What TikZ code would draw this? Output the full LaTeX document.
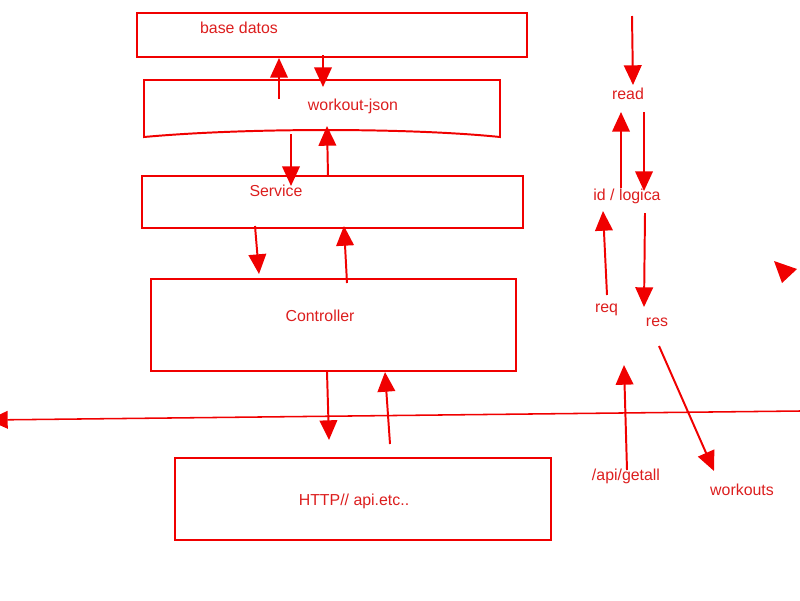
\documentclass[tikz,border=0pt]{standalone}
\usepackage{fontspec}
\setmainfont{Liberation Sans}
\usetikzlibrary{arrows.meta}
\definecolor{linered}{RGB}{240,0,0}
\definecolor{textred}{RGB}{220,30,30}

\begin{document}
\begin{tikzpicture}[x=0.025cm,y=-0.025cm,
    box/.style={draw=linered, line width=1.4pt},
    lbl/.style={text=textred, font=\fontsize{11.3}{13}\selectfont, inner sep=0pt, text height=8pt, text depth=0pt},
    flow/.style={draw=linered, line width=1.4pt, -{Triangle[length=14pt,width=12.5pt]}}]
    \useasboundingbox (0,0) rectangle (800,600);

    % Layers
    \draw[box] (137,13) rectangle (527,57);
    \node[lbl] (bd) at (239,28) {base datos};

    \draw[box] (144,80) -- (500,80) -- (500,137)
        .. controls (410,127.7) and (245,127.7) .. (144,137) -- cycle;
    \node[lbl] (wjson) at (353,105) {workout-json};

    \draw[box] (142,176) rectangle (523,228);
    \node[lbl] (serv) at (276,191) {Service};

    \draw[box] (151,279) rectangle (516,371);
    \node[lbl] (ctrl) at (320,316) {Controller};

    \draw[box] (175,458) rectangle (551,540);
    \node[lbl] (http) at (354,500) {HTTP// api.etc..};

    % Flow between layers
    \coordinate (wjUp0) at (279,99);   \coordinate (wjUp1) at (279,58);
    \coordinate (bdDn0) at (323,55);   \coordinate (bdDn1) at (323,87);
    \coordinate (wjDn0) at (291,134);  \coordinate (wjDn1) at (291,186);
    \coordinate (svUp0) at (328,176);  \coordinate (svUp1) at (327,126);
    \coordinate (svDn0) at (255,226);  \coordinate (svDn1) at (259,274);
    \coordinate (ctUp0) at (347,283);  \coordinate (ctUp1) at (344,226);
    \coordinate (ctDn0) at (327,372);  \coordinate (ctDn1) at (329,440);
    \coordinate (htUp0) at (390,444);  \coordinate (htUp1) at (385,372);
    \draw[flow] (wjUp0) -- (wjUp1);
    \draw[flow] (bdDn0) -- (bdDn1);
    \draw[flow] (wjDn0) -- (wjDn1);
    \draw[flow] (svUp0) -- (svUp1);
    \draw[flow] (svDn0) -- (svDn1);
    \draw[flow] (ctUp0) -- (ctUp1);
    \draw[flow] (ctDn0) -- (ctDn1);
    \draw[flow] (htUp0) -- (htUp1);

    % Long divider
    \coordinate (divR) at (800,411);
    \coordinate (divL) at (-12,420);
    \draw[flow, line width=1.1pt] (divR) -- (divL);

    % Request cycle
    \node[lbl] (read) at (628,94) {read};
    \node[lbl] (logic) at (627,195) {id / logica};
    \node[lbl] (req) at (606.5,307) {req};
    \node[lbl] (res) at (657,321) {res};
    \node[lbl] (getall) at (626,475) {/api/getall};
    \node[lbl] (wouts) at (742,490) {workouts};

    \coordinate (rdIn0) at (632,16);   \coordinate (rdIn1) at (633,85);
    \coordinate (lgUp0) at (621,188);  \coordinate (lgUp1) at (621,112);
    \coordinate (lgDn0) at (644,112);  \coordinate (lgDn1) at (644,191);
    \coordinate (rqUp0) at (607,295);  \coordinate (rqUp1) at (603,211);
    \coordinate (rsDn0) at (645,213);  \coordinate (rsDn1) at (644,307);
    \coordinate (gaUp0) at (627,470);  \coordinate (gaUp1) at (624,365);
    \coordinate (woDn0) at (659,346);  \coordinate (woDn1) at (714,471);
    \draw[flow] (rdIn0) -- (rdIn1);
    \draw[flow] (lgUp0) -- (lgUp1);
    \draw[flow] (lgDn0) -- (lgDn1);
    \draw[flow] (rqUp0) -- (rqUp1);
    \draw[flow] (rsDn0) -- (rsDn1);
    \draw[flow] (gaUp0) -- (gaUp1);
    \draw[flow] (woDn0) -- (woDn1);

    % Stray tip
    \fill[linered] (774,261) -- (797,269) -- (782,283) -- cycle;
\end{tikzpicture}
\end{document}
